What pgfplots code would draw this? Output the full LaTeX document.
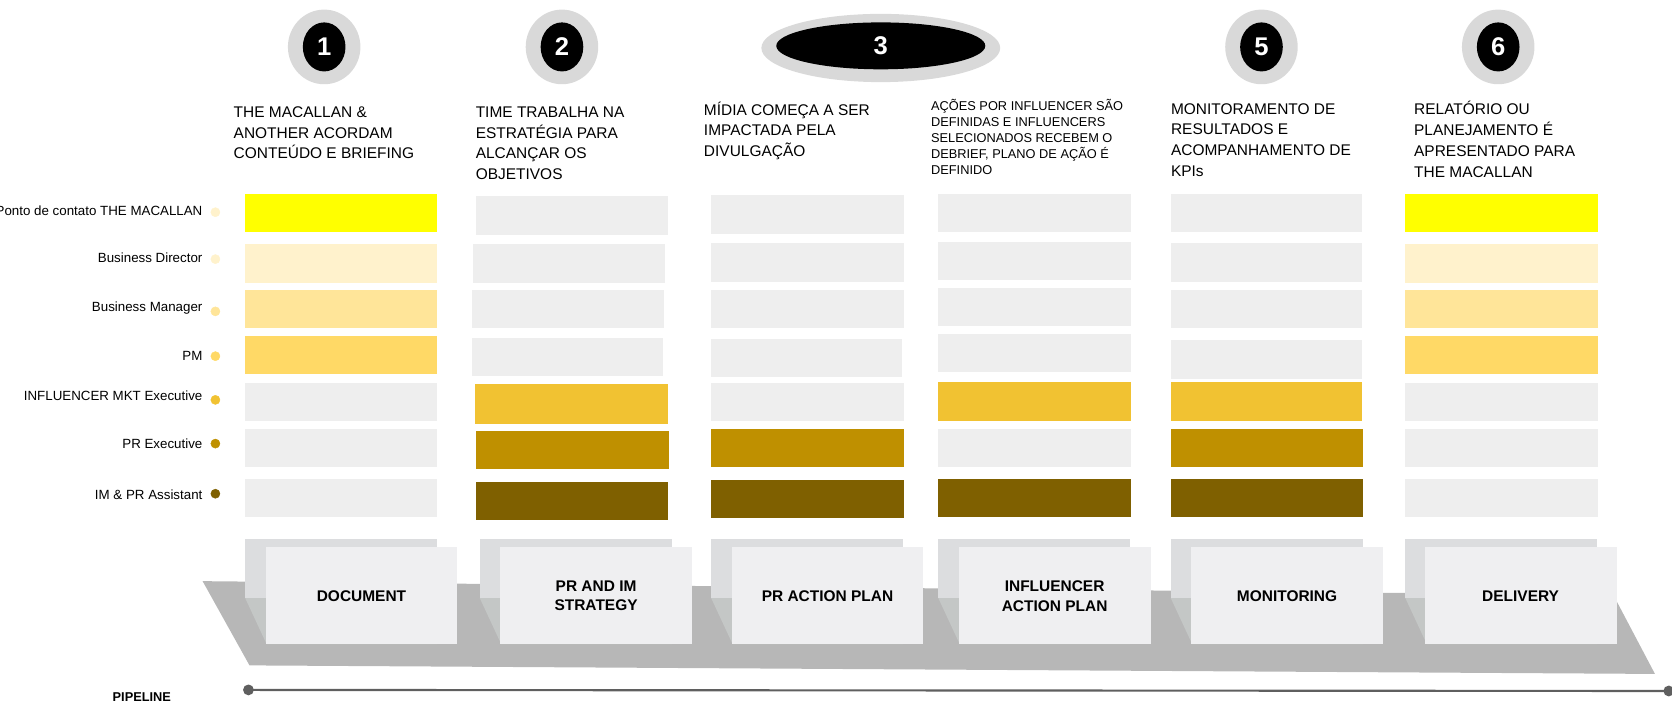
\documentclass[border=0pt]{standalone}
\usepackage{pgfplots}
\pgfplotsset{compat=1.18}
\usepackage{fontspec}
\setmainfont{Liberation Sans}

\definecolor{cY}{HTML}{FFFF00}
\definecolor{cA}{HTML}{FFF2CC}
\definecolor{cB}{HTML}{FFE599}
\definecolor{cC}{HTML}{FFD966}
\definecolor{cD}{HTML}{F1C232}
\definecolor{cE}{HTML}{BF9000}
\definecolor{cF}{HTML}{7F6000}
\definecolor{cG}{HTML}{EEEEEE}
\definecolor{stub}{HTML}{DCDDDF}
\definecolor{shad}{HTML}{C4C7C6}
\definecolor{boxc}{HTML}{EFEFF1}
\definecolor{band}{HTML}{B7B7B7}
\definecolor{ring}{HTML}{D9D9D9}
\definecolor{pipe}{HTML}{5F5F5F}

% one filled rectangle: x1 y1 x2 y2 colour
\newcommand\cell[5]{\addplot[fill=#5,draw=none] coordinates {(#1,#2) (#3,#2) (#3,#4) (#1,#4)} -- cycle;}
\newcommand\hdr{\fontsize{14.5}{19.5}\selectfont}
\newcommand\lbl{\fontsize{12.5}{15}\selectfont}
\newcommand\bx{\bfseries\fontsize{14.5}{18}\selectfont}
\newcommand\num{\bfseries\fontsize{24}{24}\selectfont}

\begin{document}
\begin{tikzpicture}
\begin{axis}[
    name=ax,
    scale only axis,
    width=1568pt, height=659pt,
    xmin=0, xmax=1568, ymin=0, ymax=659,
    y dir=reverse,
    hide axis,
    clip=false,
]
% role grid
\cell{230}{182}{410}{218}{cY}
\cell{230}{229}{410}{265}{cA}
\cell{230}{272}{410}{308}{cB}
\cell{230}{315}{410}{351}{cC}
\cell{230}{359}{410}{395}{cG}
\cell{230}{402}{410}{438}{cG}
\cell{230}{449}{410}{485}{cG}

\cell{446}{184}{626}{220}{cG}
\cell{444}{229}{624}{265}{cG}
\cell{443}{272}{623}{308}{cG}
\cell{443}{317}{622}{353}{cG}
\cell{445}{360}{626}{398}{cD}
\cell{446}{404}{627}{440}{cE}
\cell{446}{452}{626}{488}{cF}

\cell{667}{183}{848}{219}{cG}
\cell{667}{228}{848}{264}{cG}
\cell{667}{272}{848}{308}{cG}
\cell{667}{318}{846}{354}{cG}
\cell{667}{359}{848}{395}{cG}
\cell{667}{402}{848}{438}{cE}
\cell{667}{450}{848}{486}{cF}

\cell{880}{182}{1061}{218}{cG}
\cell{880}{227}{1061}{263}{cG}
\cell{880}{270}{1061}{306}{cG}
\cell{880}{313}{1061}{349}{cG}
\cell{880}{358}{1061}{395}{cD}
\cell{880}{402}{1061}{438}{cG}
\cell{880}{449}{1061}{485}{cF}

\cell{1098}{182}{1277}{218}{cG}
\cell{1098}{228}{1277}{264}{cG}
\cell{1098}{272}{1277}{308}{cG}
\cell{1098}{319}{1277}{355}{cG}
\cell{1098}{358}{1277}{395}{cD}
\cell{1098}{402}{1278}{438}{cE}
\cell{1098}{449}{1278}{485}{cF}

\cell{1318}{182}{1499}{218}{cY}
\cell{1318}{229}{1499}{265}{cA}
\cell{1318}{272}{1499}{308}{cB}
\cell{1318}{315}{1499}{351}{cC}
\cell{1318}{359}{1499}{395}{cG}
\cell{1318}{402}{1499}{438}{cG}
\cell{1318}{449}{1499}{485}{cG}

% pipeline band
\addplot[fill=band,draw=none] coordinates {(190,545) (1513,558) (1552,632) (234,624)} -- cycle;

% stubs, shadows and stage boxes
\cell{230}{505}{410}{561}{stub}
\cell{450}{505}{630}{561}{stub}
\cell{667}{505}{847}{561}{stub}
\cell{880}{505}{1060}{561}{stub}
\cell{1098}{505}{1278}{561}{stub}
\cell{1318}{505}{1498}{561}{stub}
\addplot[fill=shad,draw=none] coordinates {(230,561) (250,604) (410,604) (410,561)} -- cycle;
\addplot[fill=shad,draw=none] coordinates {(450,561) (470,604) (630,604) (630,561)} -- cycle;
\addplot[fill=shad,draw=none] coordinates {(667,561) (687,604) (847,604) (847,561)} -- cycle;
\addplot[fill=shad,draw=none] coordinates {(880,561) (900,604) (1060,604) (1060,561)} -- cycle;
\addplot[fill=shad,draw=none] coordinates {(1098,561) (1118,604) (1278,604) (1278,561)} -- cycle;
\addplot[fill=shad,draw=none] coordinates {(1318,561) (1338,604) (1498,604) (1498,561)} -- cycle;
\cell{249}{513}{429}{604}{boxc}
\cell{469}{513}{649}{604}{boxc}
\cell{686}{513}{866}{604}{boxc}
\cell{899}{513}{1079}{604}{boxc}
\cell{1117}{513}{1297}{604}{boxc}
\cell{1336}{513}{1516}{604}{boxc}

% role dots
\addplot[only marks, mark=*, mark size=4.3, scatter, point meta=explicit symbolic,
  scatter/classes={a={fill=cA,draw=cA}, b={fill=cB,draw=cB}, c={fill=cC,draw=cC},
                   d={fill=cD,draw=cD}, e={fill=cE,draw=cE}, f={fill=cF,draw=cF}}]
  table[meta=c] {
x y c
202 199 a
202 243 a
202 292 b
202 334 c
202 375 d
202 416 e
202 463 f
};

% pipeline line
\addplot[color=pipe, line width=2pt, mark=*, mark size=4, mark options={fill=pipe}]
  coordinates {(233,647) (1565,648)};

% step markers
\fill[ring] (axis cs:304,44) ellipse [x radius=34pt, y radius=35pt];
\fill[black] (axis cs:304,44) ellipse [x radius=20pt, y radius=23pt];
\fill[ring] (axis cs:527,44) ellipse [x radius=34pt, y radius=35pt];
\fill[black] (axis cs:527,44) ellipse [x radius=20pt, y radius=23pt];
\fill[ring] (axis cs:826,45) ellipse [x radius=112pt, y radius=32pt];
\fill[black] (axis cs:826,43) ellipse [x radius=98pt, y radius=22pt];
\fill[ring] (axis cs:1183,44) ellipse [x radius=34pt, y radius=35pt];
\fill[black] (axis cs:1183,44) ellipse [x radius=20pt, y radius=23pt];
\fill[ring] (axis cs:1405,44) ellipse [x radius=34pt, y radius=35pt];
\fill[black] (axis cs:1405,44) ellipse [x radius=20pt, y radius=23pt];
\node[white, font=\num, inner sep=0] at (axis cs:304,44) {1};
\node[white, font=\num, inner sep=0] at (axis cs:527,44) {2};
\node[white, font=\num, inner sep=0] at (axis cs:826,43) {3};
\node[white, font=\num, inner sep=0] at (axis cs:1183,44) {5};
\node[white, font=\num, inner sep=0] at (axis cs:1405,44) {6};

% step descriptions (anchor is the baseline of the last line)
\node[anchor=base west, align=left, inner sep=0, font=\hdr] at (axis cs:219,149)
  {THE MACALLAN \&\\ANOTHER ACORDAM\\CONTEÚDO E BRIEFING};
\node[anchor=base west, align=left, inner sep=0, font=\hdr] at (axis cs:446,168.5)
  {TIME TRABALHA NA\\ESTRATÉGIA PARA\\ALCANÇAR OS\\OBJETIVOS};
\node[anchor=base west, align=left, inner sep=0, font=\hdr] at (axis cs:660,147)
  {MÍDIA COMEÇA A SER\\IMPACTADA PELA\\DIVULGAÇÃO};
\node[anchor=base west, align=left, inner sep=0, font=\fontsize{12}{15}\selectfont] at (axis cs:873,164)
  {AÇÕES POR INFLUENCER SÃO\\DEFINIDAS E INFLUENCERS\\SELECIONADOS RECEBEM O\\DEBRIEF, PLANO DE AÇÃO É\\DEFINIDO};
\node[anchor=base west, align=left, inner sep=0, font=\hdr] at (axis cs:1098,165.5)
  {MONITORAMENTO DE\\RESULTADOS E\\ACOMPANHAMENTO DE\\KPIs};
\node[anchor=base west, align=left, inner sep=0, font=\hdr] at (axis cs:1326,166)
  {RELATÓRIO OU\\PLANEJAMENTO É\\APRESENTADO PARA\\THE MACALLAN};

% role names
\node[anchor=base east, inner sep=0, font=\lbl] at (axis cs:190,202.5) {Ponto de contato THE MACALLAN};
\node[anchor=base east, inner sep=0, font=\lbl] at (axis cs:190,246.5) {Business Director};
\node[anchor=base east, inner sep=0, font=\lbl] at (axis cs:190,292.5) {Business Manager};
\node[anchor=base east, inner sep=0, font=\lbl] at (axis cs:190,338.5) {PM};
\node[anchor=base east, inner sep=0, font=\lbl] at (axis cs:190,375.5) {INFLUENCER MKT Executive};
\node[anchor=base east, inner sep=0, font=\lbl] at (axis cs:190,420.5) {PR Executive};
\node[anchor=base east, inner sep=0, font=\lbl] at (axis cs:190,468.5) {IM \& PR Assistant};

% stage names
\node[align=center, font=\bx] at (axis cs:339,559) {DOCUMENT};
\node[align=center, font=\bx] at (axis cs:559,559) {PR AND IM\\STRATEGY};
\node[align=center, font=\bx] at (axis cs:776,559) {PR ACTION PLAN};
\node[align=center, font=\bx] at (axis cs:989,559) {INFLUENCER\\ACTION PLAN};
\node[align=center, font=\bx] at (axis cs:1207,559) {MONITORING};
\node[align=center, font=\bx] at (axis cs:1426,559) {DELIVERY};

\node[font=\bfseries\fontsize{12}{12}\selectfont, inner sep=0] at (axis cs:133,654) {PIPELINE};
\end{axis}
\pgfresetboundingbox
\path[use as bounding box] (ax.south west) rectangle (ax.north east);
\end{tikzpicture}
\end{document}
